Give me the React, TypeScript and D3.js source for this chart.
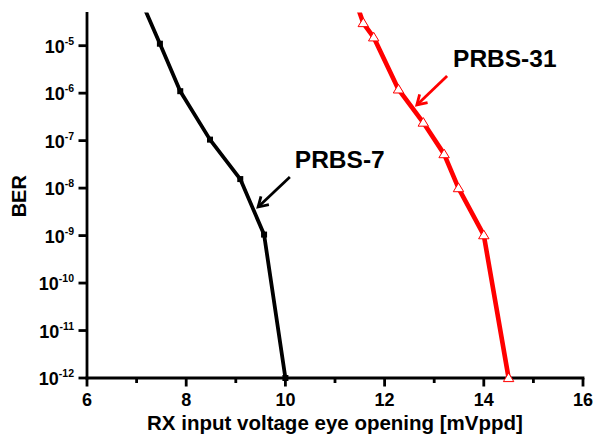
import React from "react";
import * as d3 from "d3";

const prbs7X = [7.07, 7.47, 7.88, 8.48, 9.09, 9.57, 10.0];
const prbs7Y = [1e-4, 1.1e-5, 1.1e-6, 1.05e-7, 1.55e-8, 1.05e-9, 1e-12];
const prbs31X = [11.38, 11.57, 11.78, 12.28, 12.78, 13.2, 13.49, 14.0, 14.5];
const prbs31Y = [1.1e-4, 3e-5, 1.5e-5, 1.2e-6, 2.4e-7, 5.2e-8, 1e-8, 1.02e-9, 1e-12];
const xTicks = [6, 8, 10, 12, 14, 16];
const xMinorTicks = [7, 9, 11, 13, 15];
const yTickExps = [-5, -6, -7, -8, -9, -10, -11, -12];
const xTitle = "RX input voltage eye opening [mVppd]";
const yTitle = "BER";
const labels = [
  { text: "PRBS-7", x: 10.19, y: Math.pow(10, -7.576), color: "#000", ax1: 10.09, ay1: Math.pow(10, -7.766), ax2: 9.45, ay2: Math.pow(10, -8.398) },
  { text: "PRBS-31", x: 13.38, y: Math.pow(10, -5.449), color: "#ff0000", ax1: 13.26, ay1: Math.pow(10, -5.638), ax2: 12.65, ay2: Math.pow(10, -6.249) },
];

const W = 594;
const H = 437;
const left = 87;
const right = 583;
const top = 12.5;
const bottom = 378;
const FONT = "Arial, 'Liberation Sans', sans-serif";

export default function App() {
  const x = d3.scaleLinear().domain([6, 16]).range([left, right]);
  const y = d3.scaleLog().domain([1e-12, 5e-5]).range([bottom, top]);
  const line = d3
    .line<[number, number]>()
    .x((d) => x(d[0]))
    .y((d) => y(d[1]));
  const d7: [number, number][] = prbs7X.map((v, i) => [v, prbs7Y[i]]);
  const d31: [number, number][] = prbs31X.map((v, i) => [v, prbs31Y[i]]);
  const inside = (d: [number, number]) => d[1] <= 5e-5;

  const arrowHead = (x1: number, y1: number, x2: number, y2: number, len: number) => {
    const a = Math.atan2(y2 - y1, x2 - x1);
    const s = 0.55;
    const p1 = [x2 - len * Math.cos(a - s), y2 - len * Math.sin(a - s)];
    const p2 = [x2 - len * Math.cos(a + s), y2 - len * Math.sin(a + s)];
    return `M${p1[0]},${p1[1]}L${x2},${y2}L${p2[0]},${p2[1]}`;
  };

  return (
    <svg width={W} height={H} style={{ display: "block", position: "absolute", left: 0, top: 0, background: "#fff" }} fontFamily={FONT}>
      <defs>
        <clipPath id="plot">
          <rect x={left} y={top} width={right - left + 10} height={bottom - top + 10} />
        </clipPath>
      </defs>
      <rect x={0} y={0} width={W} height={H} fill="#fff" />
      {/* series lines */}
      <g clipPath="url(#plot)">
        <path d={line(d7) || ""} fill="none" stroke="#000" strokeWidth={3.8} strokeLinejoin="round" />
        <path d={line(d31) || ""} fill="none" stroke="#ff0000" strokeWidth={4.6} strokeLinejoin="round" />
      </g>
      {/* axes */}
      <line x1={left} x2={left} y1={top - 0.5} y2={bottom + 1.4} stroke="#000" strokeWidth={2.8} />
      <line x1={left - 1.4} x2={right + 1.4} y1={bottom} y2={bottom} stroke="#000" strokeWidth={2.8} />
      {xTicks.map((t) => (
        <g key={"xt" + t}>
          <line x1={x(t)} x2={x(t)} y1={bottom} y2={bottom + 8.5} stroke="#000" strokeWidth={2.8} />
          <text x={x(t)} y={bottom + 28} textAnchor="middle" fontSize={18} fontWeight="bold">
            {t}
          </text>
        </g>
      ))}
      {xMinorTicks.map((t) => (
        <line key={"xm" + t} x1={x(t)} x2={x(t)} y1={bottom} y2={bottom + 5} stroke="#000" strokeWidth={2.8} />
      ))}
      {yTickExps.map((e) => (
        <g key={"yt" + e}>
          <line x1={left - 8.5} x2={left} y1={y(Math.pow(10, e))} y2={y(Math.pow(10, e))} stroke="#000" strokeWidth={2.8} />
          <text x={74} y={y(Math.pow(10, e)) + 7} textAnchor="end" fontWeight="bold">
            <tspan fontSize={18}>10</tspan>
            <tspan fontSize={10.5} dy={-8}>
              {e}
            </tspan>
          </text>
        </g>
      ))}
      <text x={(left + right) / 2} y={bottom + 52} textAnchor="middle" fontSize={20.5} fontWeight="bold">
        {xTitle}
      </text>
      <text transform={`translate(26,${(top + bottom) / 2 + 1}) rotate(-90)`} textAnchor="middle" fontSize={20} fontWeight="bold">
        {yTitle}
      </text>
      {/* markers */}
      {d7.filter(inside).map((d, i) => (
        <rect key={"m7" + i} x={x(d[0]) - 3} y={y(d[1]) - 3} width={6} height={6} fill="#000" />
      ))}
      {d31.filter(inside).map((d, i) => {
        const cx = x(d[0]);
        const cy = y(d[1]);
        return (
          <path
            key={"m31" + i}
            d={`M${cx},${cy - 5}L${cx + 5.2},${cy + 3.6}L${cx - 5.2},${cy + 3.6}Z`}
            fill="#fff"
            stroke="#ff0000"
            strokeWidth={1}
          />
        );
      })}
      {/* annotations */}
      {labels.map((l) => (
        <g key={l.text}>
          <text x={x(l.x)} y={y(l.y)} fontSize={24.5} fontWeight="bold" fill="#000">
            {l.text}
          </text>
          <line x1={x(l.ax1)} y1={y(l.ay1)} x2={x(l.ax2)} y2={y(l.ay2)} stroke={l.color} strokeWidth={2.8} />
          <path d={arrowHead(x(l.ax1), y(l.ay1), x(l.ax2), y(l.ay2), 11)} fill="none" stroke={l.color} strokeWidth={2.8} />
        </g>
      ))}
    </svg>
  );
}
